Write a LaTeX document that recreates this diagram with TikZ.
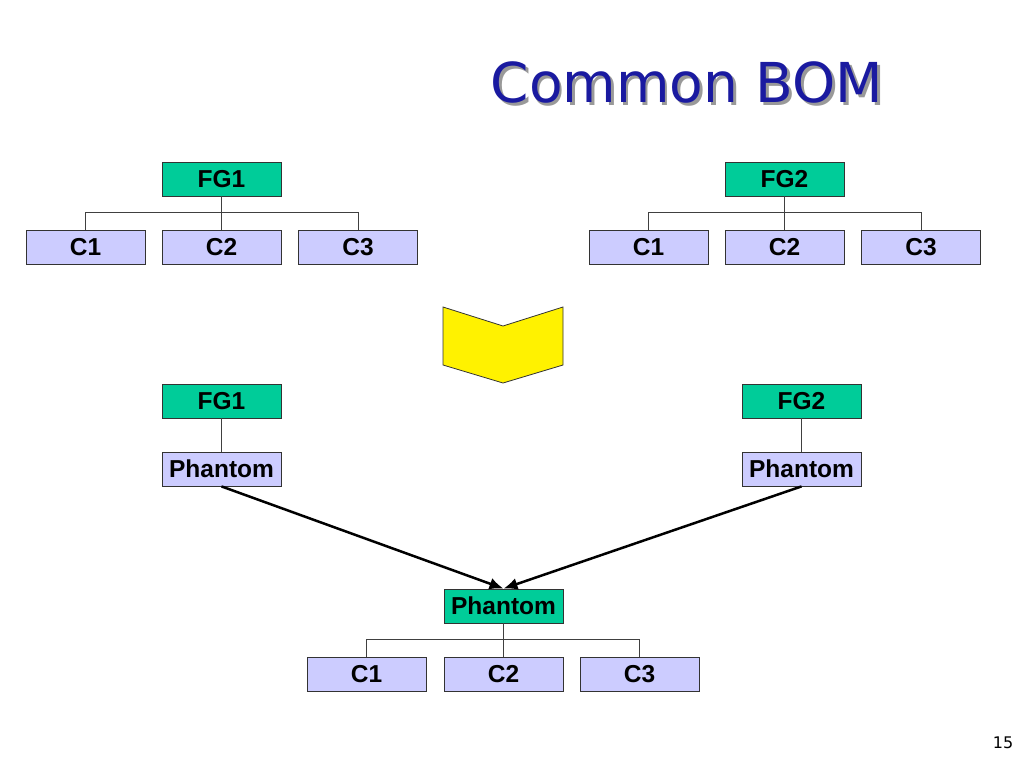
\documentclass[tikz,border=0pt]{standalone}
\usepackage{fontspec}
\setmainfont{Liberation Sans}
\newfontfamily\titlefont{DejaVu Sans}
\usepackage{tikz}
\usepackage{xcolor}
\usetikzlibrary{arrows.meta}
\definecolor{bomgreen}{RGB}{0,204,153}
\definecolor{bomlilac}{RGB}{204,204,255}
\definecolor{bomblue}{RGB}{26,26,160}
\tikzset{
    bom-box/.style = {draw=black!80, line width=0.8pt, rectangle, minimum width=119pt, minimum height=34pt, inner sep=0pt, font=\fontsize{24.5}{24.5}\selectfont\bfseries},
    green-box/.style = {bom-box, fill=bomgreen},
    lilac-box/.style = {bom-box, fill=bomlilac},
    tree-line/.style = {draw=black!75, line width=1pt},
    merge-arrow/.style = {draw=black, line width=2.5pt, -{Latex[length=14pt,width=12pt]}},
}

\begin{document}
\begin{tikzpicture}[x=1pt,y=-1pt]
\fill[white] (0,0) rectangle (1024,768);
\useasboundingbox (0,0) rectangle (1024,768);

% title, with its shadow
\node[font=\titlefont\fontsize{55}{55}\selectfont] (title) at (687,84)
    {\makebox[0pt][l]{\hspace{2.5pt}\raisebox{-2.5pt}{\textcolor{black!40}{Common BOM}}}\textcolor{bomblue}{Common BOM}};

% first bom
\node[green-box] (fgA) at (221.5,179) {FG1};
\node[lilac-box] (cA1) at (85.5,247) {C1};
\node[lilac-box] (cA2) at (221.5,247) {C2};
\node[lilac-box] (cA3) at (358,247) {C3};
\draw[tree-line] (fgA.south) -- (cA2.north);
\draw[tree-line] (cA1.north) -- ++(0,-17) -| (cA3.north);

% second bom
\node[green-box] (fgB) at (784.5,179) {FG2};
\node[lilac-box] (cB1) at (648.5,247) {C1};
\node[lilac-box] (cB2) at (784.5,247) {C2};
\node[lilac-box] (cB3) at (921,247) {C3};
\draw[tree-line] (fgB.south) -- (cB2.north);
\draw[tree-line] (cB1.north) -- ++(0,-17) -| (cB3.north);

% chevron
\draw[fill=yellow, draw=black!80, line width=0.8pt] (443,307) -- (503,326) -- (563,307) -- (563,365) -- (503,383) -- (443,365) -- cycle;

% common bom
\node[green-box] (fgL) at (221.5,401) {FG1};
\node[lilac-box] (phL) at (221.5,469) {Phantom};
\node[green-box] (fgR) at (801.5,401) {FG2};
\node[lilac-box] (phR) at (801.5,469) {Phantom};
\draw[tree-line] (fgL.south) -- (phL.north);
\draw[tree-line] (fgR.south) -- (phR.north);

\node[green-box] (phC) at (503.5,606) {Phantom};
\node[lilac-box] (cC1) at (366.5,674) {C1};
\node[lilac-box] (cC2) at (503.5,674) {C2};
\node[lilac-box] (cC3) at (639.5,674) {C3};
\draw[tree-line] (phC.south) -- (cC2.north);
\draw[tree-line] (cC1.north) -- ++(0,-17) -| (cC3.north);

\draw[merge-arrow] (phL.south) -- (phC.north);
\draw[merge-arrow] (phR.south) -- (phC.north);

% page number
\node[font=\titlefont\fontsize{16}{16}\selectfont] (page) at (1003,743) {15};
\end{tikzpicture}
\end{document}
